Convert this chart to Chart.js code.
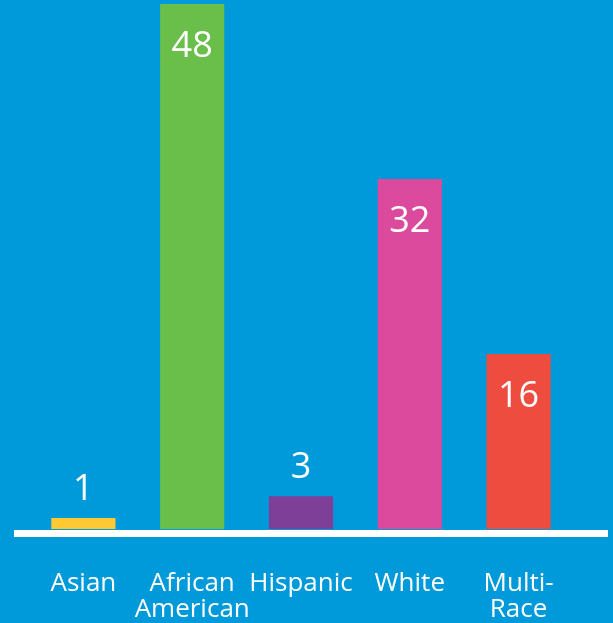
<!DOCTYPE html>
<html>
<head>
<meta charset="utf-8">
<script src="https://cdn.jsdelivr.net/npm/chart.js@4"></script>
<style>
  html, body { margin: 0; padding: 0; background: #0099d9; }
  canvas { display: block; }
</style>
</head>
<body>
<canvas id="chart" width="613" height="623"></canvas>
<script>
const categories = [['Asian'], ['African', 'American'], ['Hispanic'], ['White'], ['Multi-', 'Race']];
const counts = [1, 48, 3, 32, 16];
const barColors = ['#ffc934', '#6abf4b', '#7e3f98', '#db4a9c', '#ee4c3e'];

// white base line under the bars
const baseLine = {
    id: 'baseLine',
    afterDatasetsDraw(chart) {
        const ctx = chart.ctx;
        const y0 = chart.scales.y.getPixelForValue(0);
        ctx.save();
        ctx.fillStyle = '#ffffff';
        ctx.fillRect(14, y0 + 1, 594, 7);
        ctx.restore();
    }
};

// value labels: inside the bar when tall, above it when short
const valueLabels = {
    id: 'valueLabels',
    afterDatasetsDraw(chart) {
        const ctx = chart.ctx;
        const meta = chart.getDatasetMeta(0);
        ctx.save();
        ctx.fillStyle = '#ffffff';
        ctx.font = '36px "Open Sans", sans-serif';
        ctx.textAlign = 'center';
        ctx.textBaseline = 'middle';
        meta.data.forEach((bar, i) => {
            const h = bar.base - bar.y;
            const y = h > 80 ? bar.y + 43 : bar.y - 28;
            ctx.fillText(String(counts[i]), bar.x, y);
        });
        ctx.restore();
    }
};

new Chart(document.getElementById('chart'), {
    type: 'bar',
    data: {
        labels: categories,
        datasets: [{
            data: counts,
            backgroundColor: barColors,
            borderWidth: 0,
            barPercentage: 0.59,
            categoryPercentage: 1
        }]
    },
    options: {
        responsive: false,
        animation: false,
        layout: { padding: { top: 4, left: 29, right: 40, bottom: 0 } },
        plugins: { legend: { display: false }, tooltip: { enabled: false } },
        scales: {
            y: { display: false, min: 0, max: 48 },
            x: {
                afterFit: (scale) => { scale.height = 94; },
                grid: { display: false, drawTicks: false },
                border: { display: false },
                ticks: {
                    color: '#ffffff',
                    padding: 42,
                    maxRotation: 0,
                    autoSkip: false,
                    font: { family: '"Open Sans", sans-serif', size: 26, lineHeight: 1.0 }
                }
            }
        }
    },
    plugins: [baseLine, valueLabels]
});
</script>
</body>
</html>
